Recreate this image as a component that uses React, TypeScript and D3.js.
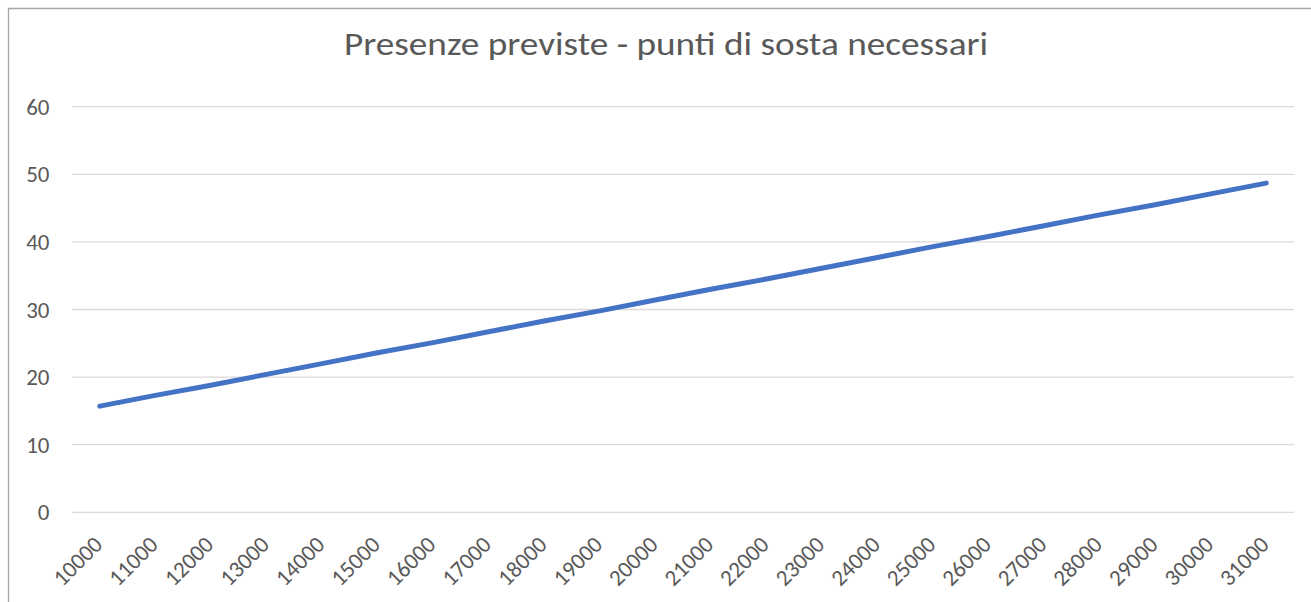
import React from "react";
import * as d3 from "d3";

const categories: string[] = [
  "10000", "11000", "12000", "13000", "14000", "15000", "16000", "17000",
  "18000", "19000", "20000", "21000", "22000", "23000", "24000", "25000",
  "26000", "27000", "28000", "29000", "30000", "31000",
];
const seriesValues: number[] = [
  15.7, 17.3, 18.8, 20.4, 22.0, 23.6, 25.1, 26.7, 28.3, 29.8, 31.4,
  33.0, 34.5, 36.1, 37.7, 39.3, 40.8, 42.4, 44.0, 45.5, 47.1, 48.7,
];
const yTicks: number[] = [0, 10, 20, 30, 40, 50, 60];
const title = "Presenze previste - punti di sosta necessari";

const W = 1311;
const H = 602;
const FONT = "Carlito, Lato, 'Open Sans', 'Liberation Sans', sans-serif";

export default function App() {
  const x = d3.scaleBand<string>().domain(categories).range([72, 1294]);
  const y = d3.scaleLinear().domain([0, 60]).range([512.3, 106.7]);
  const line = d3
    .line<number>()
    .x((_, i) => (x(categories[i]) as number) + x.bandwidth() / 2)
    .y((d) => y(d));

  return (
    <svg
      width={W}
      height={H}
      style={{ position: "absolute", left: 0, top: 0, background: "#fff" }}
      fontFamily={FONT}
    >
      <rect x={0} y={0} width={W} height={H} fill="#fff" />
      <path d={`M8.5,${H + 5} L8.5,8.5 L${W + 5},8.5`} fill="none" stroke="#a6a6a6" strokeWidth={1.3} />
      <text
        x={666}
        y={55}
        textAnchor="middle"
        fontSize={32}
        fill="#595959"
        textLength={644}
        lengthAdjust="spacingAndGlyphs"
      >
        {title}
      </text>
      {yTicks.map((t) => (
        <g key={t}>
          <line x1={72} x2={1294} y1={y(t)} y2={y(t)} stroke="#d9d9d9" strokeWidth={1.3} />
          <text x={49.5} y={y(t)} dy="0.35em" textAnchor="end" fontSize={23} fill="#595959">
            {t}
          </text>
        </g>
      ))}
      {categories.map((c) => {
        const cx = (x(c) as number) + x.bandwidth() / 2;
        return (
          <text
            key={c}
            transform={`translate(${cx + 4},${546}) rotate(-45)`}
            textAnchor="end"
            fontSize={23}
            fill="#595959"
          >
            {c}
          </text>
        );
      })}
      <path
        d={line(seriesValues) || ""}
        fill="none"
        stroke="#4472C4"
        strokeWidth={5}
        strokeLinecap="round"
        strokeLinejoin="round"
      />
    </svg>
  );
}
